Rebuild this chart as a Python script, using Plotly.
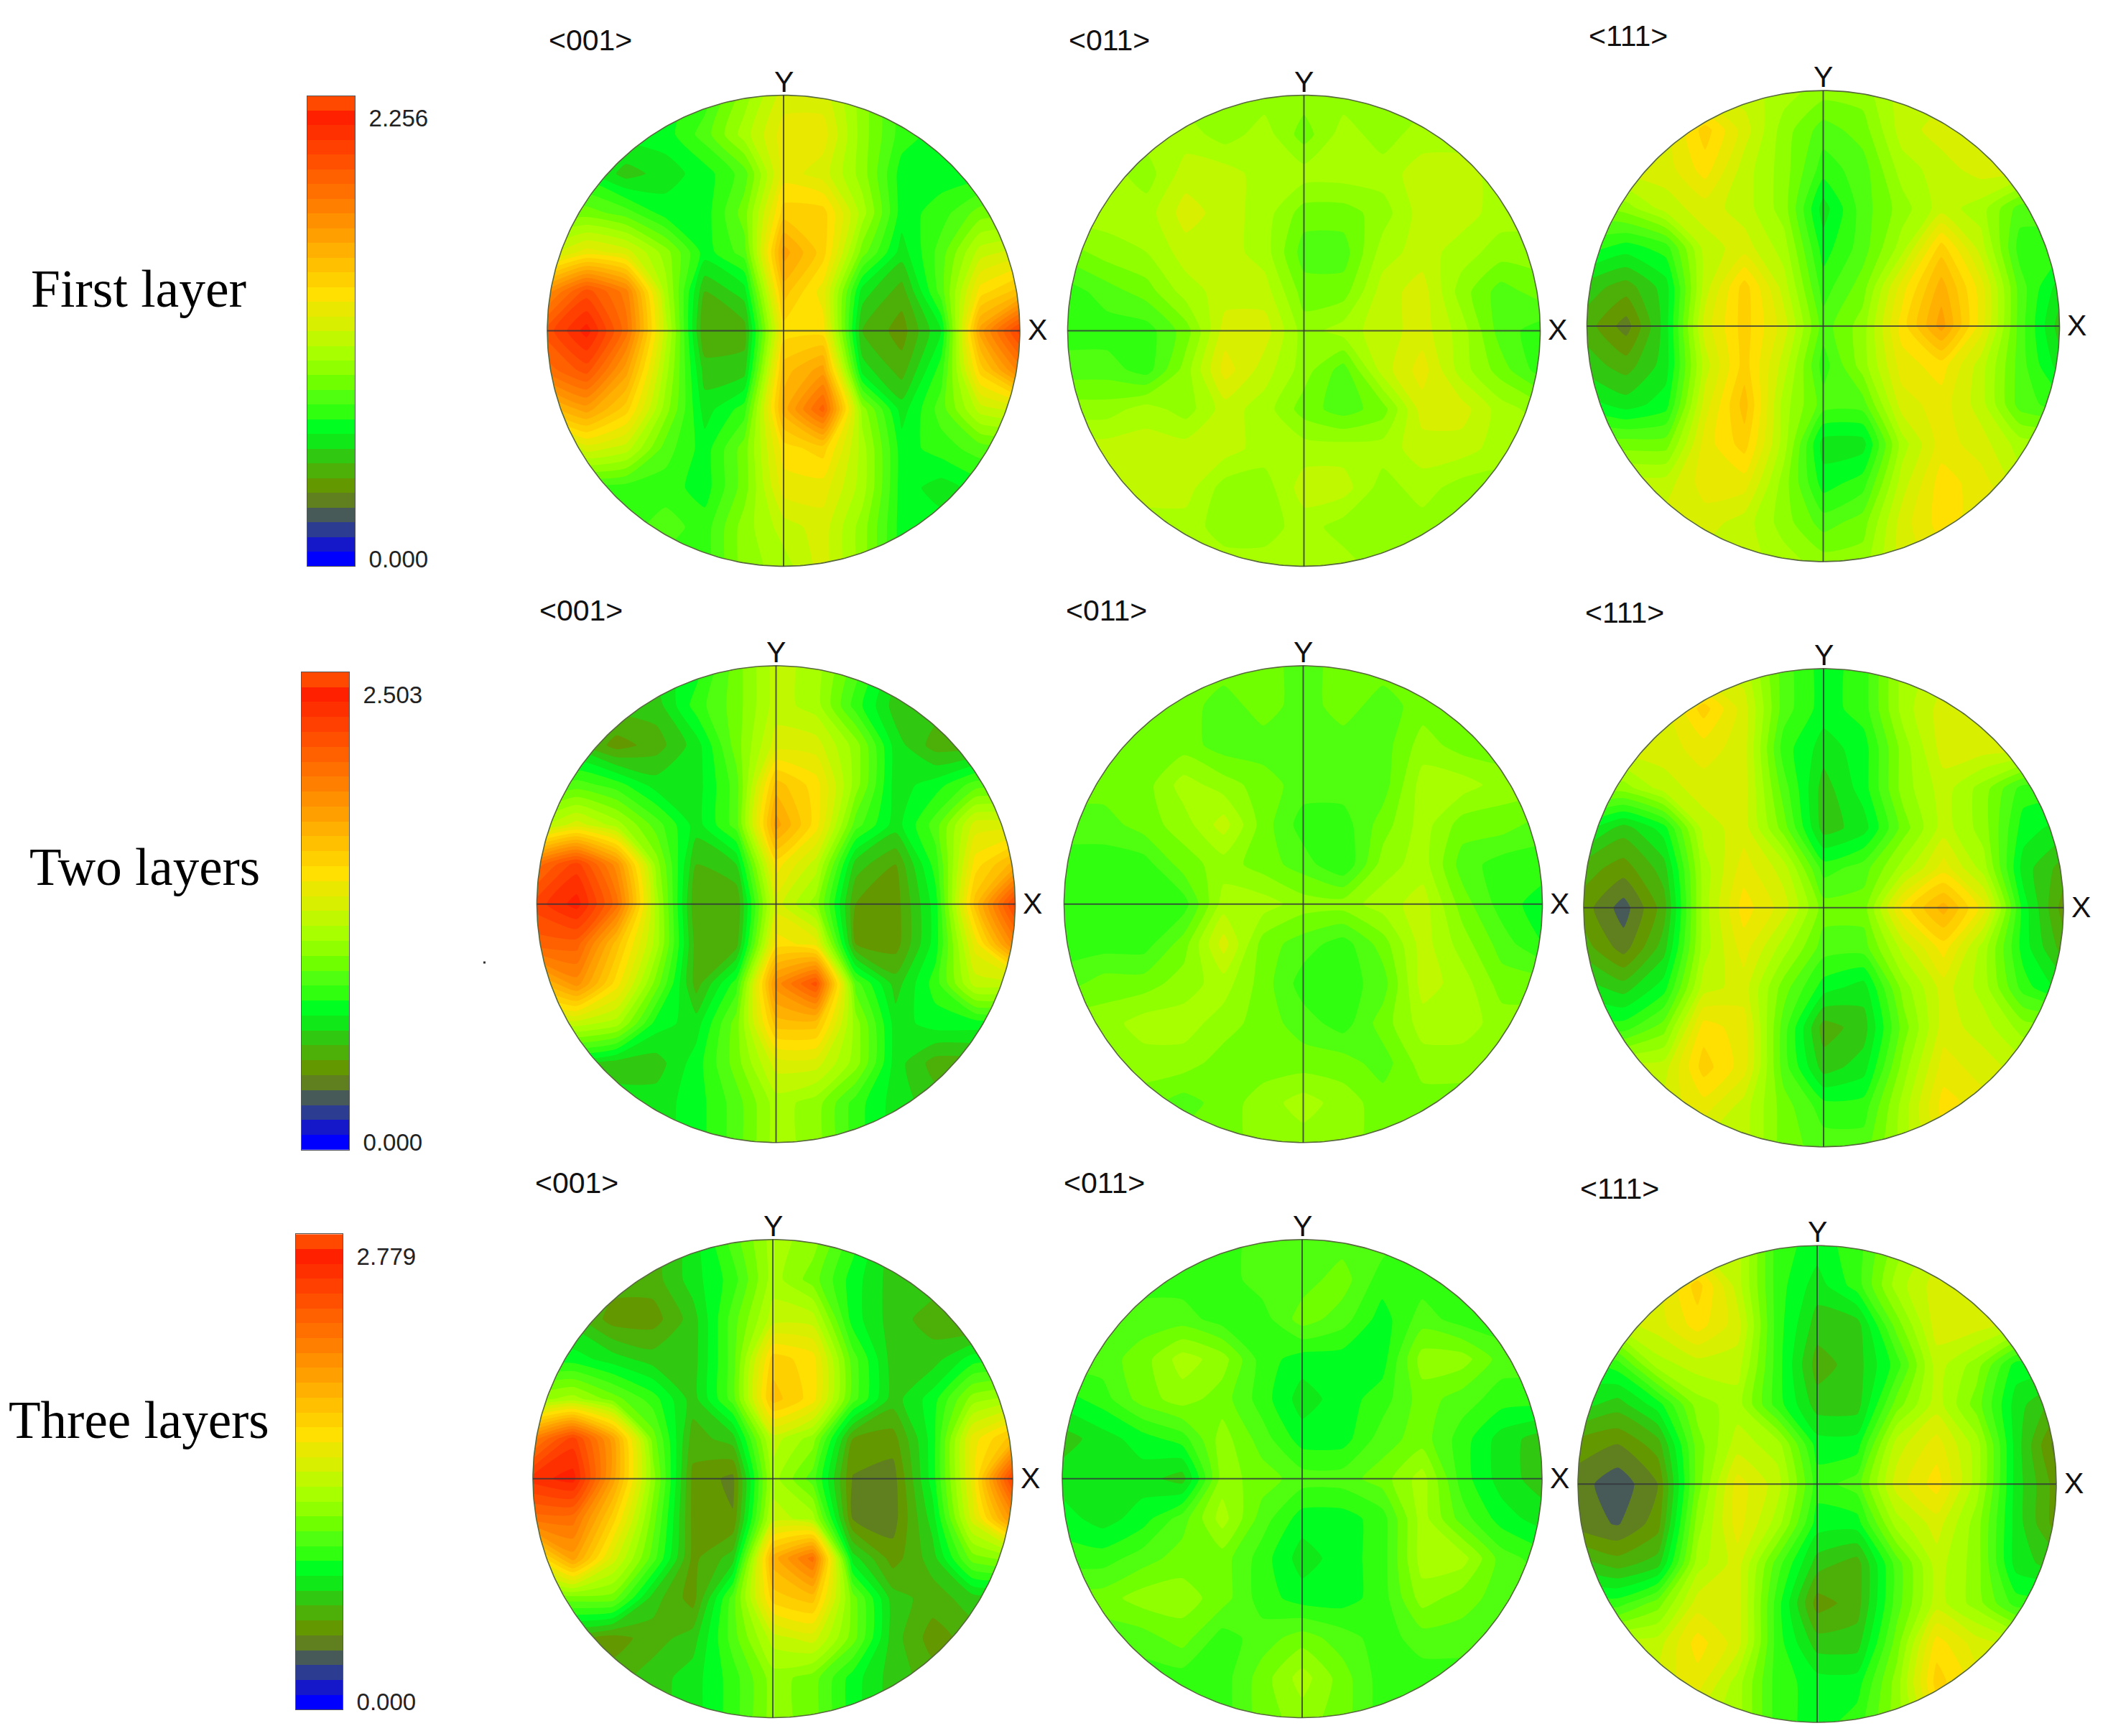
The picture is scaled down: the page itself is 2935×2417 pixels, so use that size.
import numpy as np
import plotly.graph_objects as go

PAGE_W, PAGE_H = 2935, 2417

# Colour bands of the scale, from the lowest (index 0) to the highest
band_colors = ["#0000ff", "#1418c8", "#2c3c90", "#485a58", "#608020", "#649800", "#4cb008", "#30c810",
               "#10e818", "#00ff20", "#30ff10", "#50ff10", "#70ff00", "#90ff00", "#a8ff00", "#c0f800",
               "#d8f000", "#e8e800", "#ffe000", "#ffd000", "#ffc000", "#ffb000", "#ffa000", "#ff9000",
               "#ff8000", "#ff7000", "#ff6000", "#ff5000", "#ff4000", "#ff3000", "#ff2000", "#ff4800"]

row_names = ["First layer", "Two layers", "Three layers"]
pole_names = ["<001>", "<011>", "<111>"]
scale_max = [2.256, 2.503, 2.779]
scale_ticks = ["{:.3f}".format(v) for v in scale_max]

# Pole density on a 13 x 13 grid, top row first, as colour band index
first_001 = [
 [9,9,9,9,10,13,16,16,13,10,9,9,9],
 [9,9,9,9,11,14,17,17,13,10,9,9,9],
 [9,9,7,8,9,11,17,16,13,9,9,9,9],
 [12,12,11,9,9,12,19,19,14,9,10,12,12],
 [15,17,16,13,9,11,22,19,12,8,11,15,16],
 [23,27,24,14,6.5,8,20,17,8,6,11,18,20],
 [27,30,25,15,5.5,6,18,18,6.5,5,8.5,22,28],
 [25,27,22,14,7,7,20,22,8,6,10,19,24],
 [20,22,19,13,8,10,21,26,13,8,11,15,16],
 [12,16,15,11,9,12,18,19,14,9,10,11,11],
 [10,10,10,10,9,12,17,17,14,9,8,9,9],
 [10,10,10,11,10,13,15,16,13,9,9,9,9],
 [10,10,10,10,10,13,14,16,13,9,9,9,9]]
first_011 = [
 [13,13,13,13,13,13,13,13,13,13,13,13,13],
 [14,14,14,14,13,14,12,14,13,14,14,14,14],
 [14,14,13,15,15,14,14,14,14,15,15,14,14],
 [14,14,14,16,15,14,12,12,13,15,15,14,14],
 [12,13,13.5,15,15,14,11,11,14,15,14,13,13],
 [10,11,12,14,15,15,12,12,15,16,13,11,12],
 [10,10,10,12,16,16,13,14,15,16,14,11,10],
 [11,11,10,13,17,15,13,11,15,17,14,12,10],
 [13,13,14,13,15,14,12,11,12,16,16,14,13],
 [15,15,15,15,15,14,14,14,14,15,15,14,14],
 [15,15,15,15,13,13,15,15,13,14,13,13,13],
 [14,14,14,14,13,13,14,13,13,13,13,13,13],
 [14,14,14,14,14,14,14,14,13,13,13,13,13]]
first_111 = [
 [15,15,15,15,15,14,13,13,15,15,15,15,15],
 [16,16,16,19,16,13,11,12,15,16,16,16,16],
 [16,16,16,18,15,13,10,11,14,15,16,16,16],
 [12,13,15,16,15,13,8,11,13,15,14,11,11],
 [10,9,10,15,16,14,9,11,14,19,15,10,10],
 [7,6,8,15,19,15,10,12,17,21,17,11,8],
 [6,4,8,16,19,16,11,13,18,22,17,11,7],
 [7,6,8,15,19,15,10,13,17,18,15,11,8],
 [9,8,9,16,20,14,11,11,16,17,15,11,10],
 [12,12,12,17,19,14,8,8,14,17,16,14,14],
 [15,15,15,17,17,13,9,10,15,18,17,15,15],
 [16,16,16,16,15,13,11,12,16,18,17,17,17],
 [15,15,15,15,15,14,13,13,16,17,17,17,17]]
two_001 = [
 [8,8,8,8,9,12,15,14,11,8,8,8,8],
 [8,8,7,7,10,12,15,14,10,7,7,7,7],
 [7,7,5,6,8,12,16,16,13,8,6,6,7],
 [10,11,10,8,8,11,20,18,13,8,9,11,11],
 [14,16,14,11,8,11,22,18,11,8,11,16,16],
 [25,28,23,13,6.5,7.5,18,15,7,5.5,10,18,21],
 [28,30,25,14,5.5,5.5,16,13,5.5,5,9,20,28],
 [26,26,20,14,6,6,18,17,5.5,5,9,17,24],
 [20,23,18,12,6,10,23,27,11,7,10,15,15],
 [15,15,14,9,8,12,20,20,13,8,9,9,9],
 [8,8,7,7,9,12,16,16,13,8,6,6,6],
 [8,8,8,8,9,11,14,13,10,8,7,7,7],
 [8,8,8,8,9,11,14,13,10,8,8,8,8]]
two_011 = [
 [12,12,12,12,12,12,11,12,12,12,12,12,12],
 [12,12,12,12,11,12,11,12,11,12,12,12,12],
 [12,12,12,12,11,11,11,11,11,13,12,12,12],
 [12,12,12,14,13,12,11,11,11,14,14,13,13],
 [11,11,12,13,15,12,10,10,12,14,12,12,11],
 [10,10,10,12,13,12,11,9.5,13,14,11,10,10],
 [10,10,10,10,14,14,13,13,14,15,12,10,9],
 [10,10,10,12,16,12,11,10,12,15,13,11,9.5],
 [11,12,12,13,14,12,10,10,11,15,14,12,12],
 [13,13,14,14,13,12,11,10,12,14,14,13,13],
 [13,13,13,13,12,12,12,12,11,13,13,13,13],
 [12,12,12,11,12,13,14,13,12,12,12,12,12],
 [12,12,12,12,12,13,13,13,12,12,12,12,12]]
two_111 = [
 [15,15,15,15,15,11,9,10,14,15,15,15,15],
 [16,16,16,19,16,11,9,10,14,16,16,16,16],
 [16,16,16,17,16,10,8,9,13,16,16,16,16],
 [13,13,15,16,16,11,7,9,13,15,13,10,10],
 [9,7,9,15,16,12,7,8,12,15,13,9,8],
 [6,5,7,14,17,15,10,11,14,17,14,8,6],
 [5,3,6,14,18,16,12,12,18,21,17,9,5],
 [6,4,7,14,17,14,11,11,15,18,14,9,6],
 [8,7,9,15,16,12,9,8,13,16,14,10,8],
 [10,10,12,18,17,11,6,7,12,16,15,13,13],
 [15,15,15,19,17,11,7,8,13,17,16,15,15],
 [16,16,16,17,15,12,10,10,14,18,17,17,17],
 [15,15,15,15,15,12,11,11,14,17,17,17,17]]
three_001 = [
 [6,6,6,6,8,11,14,13,10,7,6,6,6],
 [6,6,6,6,8,10,14,12,9,7,7,6,6],
 [7,7,5,5,7,11,15,15,9,7,6,5,6],
 [9,9,8,7,7,11,19,18,11,7,7,9,9],
 [13,14,12,10,7,11,20,18,11,7,9,13,14],
 [24,28,22,12,6,7,15,13,5.5,5,9,17,20],
 [29,30,22,13,5.2,4.2,14,11,4.4,4,9,17,28],
 [25,25,19,12,5.2,4.6,15,14,4.4,4,8,16,23],
 [17,22,16,11,5.2,7,21,25,8,5,7,12,13],
 [12,12,12,7,5,11,19,20,12,7,6,7,7],
 [6,6,5,6,7,11,15,16,12,7,5,6,6],
 [6,6,6,7,8,10,13,12,9,7,6,6,6],
 [6,6,6,7,8,10,13,12,9,7,6,6,6]]
three_011 = [
 [10,10,10,10,10,11,11,11,11,10,10,10,10],
 [10,10,10,10,10,11,11,12,10,10,10,10,10],
 [10,10,11,11,10,10,12,11,9,11,10,10,10],
 [11,11,12,14,13,10,9,9,9,13,13,11,11],
 [9,10,12,13,12,10,8,9,10,12,11,10,10],
 [7,8,9,10,13,11,9,9,11,12,10,8,7],
 [8,8,8,7,13,12,11,11,12,14,10,8,7],
 [9,8,9,11,14,11,9,9,10,14,11,9,8],
 [10,10,11,12,12,10,8,9,10,14,14,11,10],
 [12,12,13,13,12,10,9,9,10,13,12,11,11],
 [11,11,11,12,10,11,12,11,10,11,11,11,11],
 [10,10,10,10,10,12,14,12,10,10,10,10,10],
 [10,10,10,10,10,12,13,12,10,10,10,10,10]]
three_111 = [
 [15,15,15,15,15,10,9,10,13,15,15,15,15],
 [16,16,16,19,15,10,8,10,14,16,16,16,16],
 [15,15,16,18,16,10,7,7,12,16,16,15,15],
 [9,10,14,15,15,10,6,7,10,15,13,9,9],
 [8,7,9,13,14,10,7,7,12,15,12,8,6],
 [5,4.5,6,12,15,14,9,9,15,17,14,8,4],
 [4,2.8,4.5,12,17,15,10,11,16,18,14,8,5],
 [4,3.4,5,13,17,14,9,9,14,16,13,8,5],
 [7,6,7,14,16,11,7,6,11,15,13,8,7],
 [10,10,12,16,16,10,5,6,11,15,13,10,10],
 [15,15,15,18,16,10,7,7,12,18,16,15,15],
 [16,16,16,17,14,10,9,9,13,19,17,17,17],
 [15,15,15,15,14,10,9,10,13,17,17,17,17]]

grids = [[first_001, first_011, first_111],
         [two_001, two_011, two_111],
         [three_001, three_011, three_111]]

# Pixel layout of the page
centers_x = [[1091, 1815.5, 2538.5], [1080.5, 1814.5, 2539], [1076, 1813, 2530]]
centers_y = [[462, 462, 455.5], [1263, 1263, 1268], [2065.5, 2065.5, 2073]]
radii = [[329, 329, 329], [333, 333, 334], [334, 334, 333]]
pole_label_x = [[762, 1486, 2210], [749, 1482, 2205], [743, 1479, 2198]]
pole_label_y = [[56, 56, 50], [853, 853, 856], [1652, 1652, 1660]]
bar_x = [(428, 494), (420, 486), (412, 477)]
bar_y = [(134, 791), (939, 1606), (1724, 2388)]
row_label_x = [41, 39, 10]
row_label_y = [404, 1212, 1984]
row_label_size = [73.5, 73, 73]

ARIAL = "Liberation Sans, Arial, sans-serif"
SERIF = "Liberation Serif, Times New Roman, serif"
colorscale = [[k / 31, c] for k, c in enumerate(band_colors)]
grid_axis = np.linspace(-1, 1, 13)
PAD = 1.015
theta = np.linspace(0, 2 * np.pi, 361)


def px(x):
    return x / PAGE_W


def py(y):
    return 1 - y / PAGE_H


fig = go.Figure()
layout_axes = {}
annotations = []
n = 0
for r in range(3):
    for c in range(3):
        n += 1
        suffix = "" if n == 1 else str(n)
        cx, cy, R = centers_x[r][c], centers_y[r][c], radii[r][c]
        layout_axes["xaxis" + suffix] = dict(domain=[px(cx - R * PAD), px(cx + R * PAD)], range=[-PAD, PAD],
                                             visible=False, anchor="y" + suffix, fixedrange=True)
        layout_axes["yaxis" + suffix] = dict(domain=[py(cy + R * PAD), py(cy - R * PAD)], range=[-PAD, PAD],
                                             visible=False, anchor="x" + suffix, fixedrange=True)
        fig.add_trace(go.Contour(x=grid_axis, y=grid_axis[::-1], z=grids[r][c], colorscale=colorscale,
                                 autocontour=False, contours=dict(start=0.5, end=30.5, size=1, coloring="fill"),
                                 line=dict(width=0, smoothing=0.55), showscale=False,
                                 xaxis="x" + suffix, yaxis="y" + suffix, hoverinfo="skip"))
        # white keyhole mask that trims the square grid to the circle
        mx = np.concatenate([[PAD, PAD, -PAD, -PAD, PAD, PAD], np.cos(-theta)])
        my = np.concatenate([[0, PAD, PAD, -PAD, -PAD, 0], np.sin(-theta)])
        fig.add_trace(go.Scatter(x=mx, y=my, mode="lines", fill="toself", fillcolor="white",
                                 line=dict(width=0), xaxis="x" + suffix, yaxis="y" + suffix,
                                 hoverinfo="skip", showlegend=False))
        fig.add_trace(go.Scatter(x=np.cos(theta), y=np.sin(theta), mode="lines",
                                 line=dict(color="#56683c", width=1.6), xaxis="x" + suffix, yaxis="y" + suffix,
                                 hoverinfo="skip", showlegend=False))
        fig.add_trace(go.Scatter(x=[-1, 1, None, 0, 0], y=[0, 0, None, -1, 1], mode="lines",
                                 line=dict(color="rgba(50,50,60,0.8)", width=2), xaxis="x" + suffix,
                                 yaxis="y" + suffix, hoverinfo="skip", showlegend=False))
        annotations.append(dict(text=pole_names[c], x=px(pole_label_x[r][c]), y=py(pole_label_y[r][c]),
                                xref="paper", yref="paper", xanchor="left", yanchor="middle", showarrow=False,
                                font=dict(family=ARIAL, size=41, color="#111")))
        annotations.append(dict(text="Y", x=px(cx), y=py(cy - R - 19), xref="paper", yref="paper",
                                xanchor="center", yanchor="middle", showarrow=False,
                                font=dict(family=ARIAL, size=41, color="#111")))
        annotations.append(dict(text="X", x=px(cx + R + 24), y=py(cy - 1), xref="paper", yref="paper",
                                xanchor="center", yanchor="middle", showarrow=False,
                                font=dict(family=ARIAL, size=41, color="#111")))

# Scale bars
for r in range(3):
    n += 1
    step = scale_max[r] / 30
    layout_axes["xaxis%d" % n] = dict(domain=[px(bar_x[r][0]), px(bar_x[r][1])], range=[0, 1], visible=True,
                                      showticklabels=False, ticks="", showgrid=False, zeroline=False,
                                      showline=True, linecolor="#555", linewidth=1, mirror=True,
                                      anchor="y%d" % n, fixedrange=True)
    layout_axes["yaxis%d" % n] = dict(domain=[py(bar_y[r][1]), py(bar_y[r][0])],
                                      range=[-0.5 * step, 31.5 * step], side="right",
                                      tickvals=[0, scale_max[r]], ticktext=["0.000", scale_ticks[r]],
                                      ticks="outside", ticklen=12, tickcolor="rgba(0,0,0,0)",
                                      tickfont=dict(family=ARIAL, size=33, color="#222"),
                                      showgrid=False, zeroline=False, showline=True, linecolor="#555",
                                      linewidth=1, mirror=True, anchor="x%d" % n, fixedrange=True)
    fig.add_trace(go.Heatmap(x=[0, 1], y=[k * step for k in range(32)],
                             z=[[k, k] for k in range(32)], zmin=0, zmax=31, colorscale=colorscale,
                             showscale=False, xaxis="x%d" % n, yaxis="y%d" % n, hoverinfo="skip"))
    annotations.append(dict(text=row_names[r], x=px(row_label_x[r]), y=py(row_label_y[r]), xref="paper",
                            yref="paper", xanchor="left", yanchor="middle", showarrow=False,
                            font=dict(family=SERIF, size=row_label_size[r], color="#000")))

fig.update_layout(width=PAGE_W, height=PAGE_H, margin=dict(l=0, r=0, t=0, b=0), autosize=False,
                  paper_bgcolor="white", plot_bgcolor="white", showlegend=False, annotations=annotations,
                  shapes=[dict(type="rect", xref="paper", yref="paper", x0=px(673), x1=px(676),
                               y0=py(1346), y1=py(1343), fillcolor="#333", line=dict(width=0))],
                  **layout_axes)
fig.write_html("out.html", config={"displayModeBar": False},
               post_script="document.body.style.margin='0';document.body.style.overflow='hidden';")
